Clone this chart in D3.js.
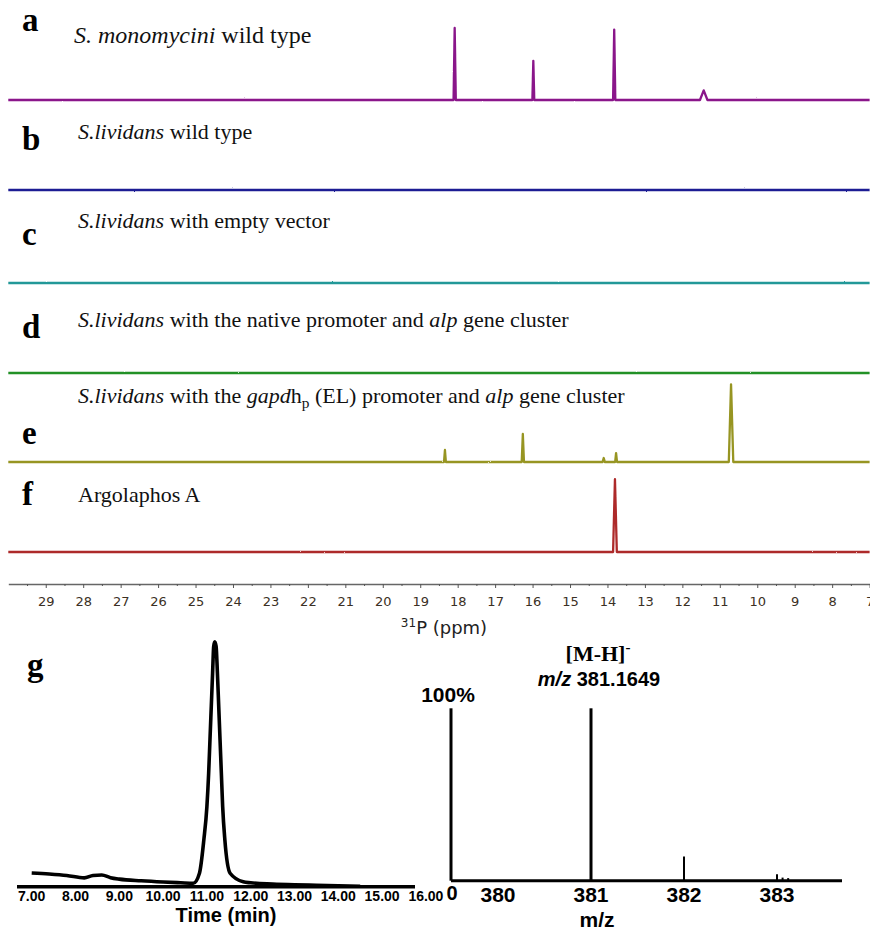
<!DOCTYPE html>
<html>
<head>
<meta charset="utf-8">
<script src="https://cdn.jsdelivr.net/npm/d3@7"></script>
<style>
  body { margin: 0; background: #fff; }
  svg { display: block; }
</style>
</head>
<body>
<svg id="chart"></svg>
<script>
// ---- data ----
// 31P NMR panels a-f: [ppm, height (% of tallest), half width (ppm)]
const panelLetters = ["a", "b", "c", "d", "e", "f"];
const peaksA = [[18.08, 90, 0.03], [15.98, 49, 0.025], [13.82, 88, 0.03], [11.43, 12, 0.1]];
const peaksB = [];
const peaksC = [];
const peaksD = [];
const peaksE = [[18.34, 15, 0.025], [16.26, 35, 0.03], [14.1, 5, 0.03], [13.77, 11, 0.025], [10.7, 97, 0.06]];
const peaksF = [[13.8, 91, 0.05]];
const ppmTicks = d3.range(7, 30);
const ppmMinorTicks = d3.range(7.5, 30, 1);

// LC trace (panel g, left): [time (min), relative intensity %]
const lcTrace = [
  [7.0, 5.6], [7.4, 5.2], [7.8, 4.6], [8.2, 3.6], [8.4, 4.6], [8.6, 4.8], [8.8, 3.7],
  [9.0, 3.1], [9.5, 2.4], [10.0, 1.9], [10.4, 1.6], [10.69, 1.4], [10.83, 5.5],
  [10.93, 19.1], [11.0, 32.7], [11.04, 46.3], [11.07, 60], [11.1, 73.6], [11.13, 87.2],
  [11.155, 98.1], [11.18, 100], [11.21, 98.1], [11.24, 87.2], [11.27, 73.6], [11.3, 60],
  [11.33, 46.3], [11.36, 32.7], [11.41, 19.1], [11.53, 5.5], [11.83, 2.0], [12.0, 1.6],
  [12.5, 1.1], [13.0, 0.8], [13.5, 0.6], [14.0, 0.4], [14.5, 0.2]
];
const timeTicks = [7, 8, 9, 10, 11, 12, 13, 14, 15, 16];

// MS spectrum (panel g, right): [m/z, relative abundance %]
const msPeaks = [[381.0, 100], [382.0, 14], [383.0, 3.7], [383.06, 1.8], [383.12, 1.5]];
const mzTicks = [380, 381, 382, 383];

// ---- layout ----
const W = 870, H = 930;
const svg = d3.select("#chart").attr("width", W).attr("height", H);

const serif = "'Liberation Serif', 'Times New Roman', serif";
const sans = "'Liberation Sans', Arial, sans-serif";
const tahoma = "'DejaVu Sans', Tahoma, sans-serif";

// slight jitter so the NMR baselines look like noisy spectra
const defs = svg.append("defs");
const noise = defs.append("filter")
  .attr("id", "noisy")
  .attr("filterUnits", "userSpaceOnUse")
  .attr("x", 0).attr("y", 0).attr("width", W).attr("height", H);
noise.append("feTurbulence")
  .attr("type", "fractalNoise")
  .attr("baseFrequency", "0.5 0.8")
  .attr("numOctaves", 1)
  .attr("seed", 3)
  .attr("result", "turb");
noise.append("feDisplacementMap")
  .attr("in", "SourceGraphic").attr("in2", "turb")
  .attr("scale", 1.6)
  .attr("xChannelSelector", "R").attr("yChannelSelector", "G");

// NMR scales
const xPpm = d3.scaleLinear().domain([30, 7]).range([8.3, 869.6]);
const yInt = d3.scaleLinear().domain([0, 100]).range([0, 80]);
const rowBase = [100, 190, 283, 373, 462, 552];
const rowColor = ["#8a168a", "#1c1c94", "#239898", "#219128", "#979524", "#ad2a2a"];
const allPeaks = [peaksA, peaksB, peaksC, peaksD, peaksE, peaksF];

// build the line for each trace from its peak list
function tracePoints(peaks) {
  const pts = [[30, 0]];
  peaks.slice().sort((p, q) => q[0] - p[0]).forEach(([ppm, h, w]) => {
    pts.push([ppm + w, 0], [ppm, h], [ppm - w, 0]);
  });
  pts.push([7, 0]);
  return pts;
}

allPeaks.forEach((peaks, i) => {
  const line = d3.line()
    .x(d => xPpm(d[0]))
    .y(d => rowBase[i] - yInt(d[1]));
  svg.append("path")
    .attr("d", line(tracePoints(peaks)))
    .attr("fill", "none")
    .attr("stroke", rowColor[i])
    .attr("stroke-width", 2.3)
    .attr("stroke-linejoin", "round")
    .attr("filter", "url(#noisy)");
});

// panel letters
const letterPos = [[22, 31], [22, 150], [22, 245], [22, 338], [22, 444], [22, 505]];
panelLetters.forEach((l, i) => {
  svg.append("text")
    .attr("x", letterPos[i][0]).attr("y", letterPos[i][1])
    .attr("font-family", serif).attr("font-weight", "bold")
    .attr("font-size", 33).text(l);
});

// panel descriptions: arrays of [text, style]
const descriptions = [
  [[["S. monomycini", "i"], [" wild type", ""]], 74, 43, 24],
  [[["S.lividans", "i"], [" wild type", ""]], 78, 139, 22],
  [[["S.lividans", "i"], [" with empty vector", ""]], 78, 228, 22],
  [[["S.lividans", "i"], [" with the native promoter and ", ""], ["alp", "i"], [" gene cluster", ""]], 78, 327, 22],
  [[["S.lividans", "i"], [" with the ", ""], ["gapd", "i"], ["h", ""], ["p", "sub"], [" (EL) promoter and ", ""], ["alp", "i"], [" gene cluster", ""]], 78, 403, 22],
  [[["Argolaphos A", ""]], 78, 502, 22]
];
descriptions.forEach(([parts, x, y, fs]) => {
  const t = svg.append("text").attr("x", x).attr("y", y)
    .attr("font-family", serif).attr("font-size", fs).attr("fill", "#111");
  parts.forEach(([s, st]) => {
    const ts = t.append("tspan").text(s);
    if (st === "i") ts.attr("font-style", "italic");
    if (st === "sub") ts.attr("font-size", fs * 0.7).attr("dy", 5);
    if (s.startsWith(" (EL)")) ts.attr("dy", -5);
  });
});

// ppm axis
const axisY = 584;
const ppmAxis = svg.append("g")
  .attr("transform", `translate(0,${axisY})`)
  .call(d3.axisBottom(xPpm).tickValues(ppmTicks).tickSize(4).tickSizeOuter(0).tickPadding(9));
ppmAxis.select(".domain").attr("stroke", "#666").attr("stroke-width", 1.5);
ppmAxis.selectAll(".tick line").attr("stroke", "#555");
ppmAxis.selectAll(".tick text")
  .attr("font-family", tahoma).attr("font-size", 13).attr("fill", "#3b3024");

svg.append("g")
  .attr("transform", `translate(0,${axisY})`)
  .call(d3.axisBottom(xPpm).tickValues(ppmMinorTicks).tickSize(2).tickFormat(""))
  .call(g => g.select(".domain").remove())
  .selectAll(".tick line").attr("stroke", "#555");

svg.append("text")
  .attr("x", 444).attr("y", 634).attr("text-anchor", "middle")
  .attr("font-family", tahoma).attr("font-size", 18).attr("fill", "#222")
  .call(t => {
    t.append("tspan").text("31").attr("font-size", 12).attr("dy", -7);
    t.append("tspan").text("P (ppm)").attr("dy", 7);
  });

// ---- panel g ----
svg.append("text")
  .attr("x", 27).attr("y", 676)
  .attr("font-family", serif).attr("font-weight", "bold")
  .attr("font-size", 33).text("g");

// LC chromatogram
const xTime = d3.scaleLinear().domain([7, 16]).range([31.7, 425.9]);
const yLc = d3.scaleLinear().domain([0, 100]).range([886.7, 641.7]);

svg.append("line")
  .attr("x1", 17).attr("x2", 415)
  .attr("y1", yLc(0)).attr("y2", yLc(0))
  .attr("stroke", "#000").attr("stroke-width", 3.5);

svg.append("path")
  .datum(lcTrace)
  .attr("d", d3.line().x(d => xTime(d[0])).y(d => yLc(d[1])).curve(d3.curveMonotoneX))
  .attr("fill", "none").attr("stroke", "#000")
  .attr("stroke-width", 3.6).attr("stroke-linejoin", "round");

svg.selectAll(".timeTick")
  .data(timeTicks).join("text")
  .attr("class", "timeTick")
  .attr("x", d => xTime(d)).attr("y", 901)
  .attr("text-anchor", "middle")
  .attr("font-family", sans).attr("font-weight", "bold").attr("font-size", 14)
  .text(d => d3.format(".2f")(d));

svg.append("text")
  .attr("x", 226).attr("y", 922).attr("text-anchor", "middle")
  .attr("font-family", sans).attr("font-weight", "bold").attr("font-size", 20)
  .text("Time (min)");

// mass spectrum
const xMz = d3.scaleLinear().domain([380, 383]).range([498, 777]);
const yMs = d3.scaleLinear().domain([0, 100]).range([880.7, 708.3]);

svg.append("line")
  .attr("x1", 451).attr("x2", 842)
  .attr("y1", yMs(0)).attr("y2", yMs(0))
  .attr("stroke", "#000").attr("stroke-width", 3);
svg.append("line")
  .attr("x1", 451).attr("x2", 451)
  .attr("y1", yMs(0)).attr("y2", yMs(100))
  .attr("stroke", "#000").attr("stroke-width", 3);

svg.selectAll(".msPeak")
  .data(msPeaks).join("line")
  .attr("class", "msPeak")
  .attr("x1", d => xMz(d[0])).attr("x2", d => xMz(d[0]))
  .attr("y1", yMs(0)).attr("y2", d => yMs(d[1]))
  .attr("stroke", "#000")
  .attr("stroke-width", d => d[1] > 50 ? 3 : 2);

svg.selectAll(".mzTick")
  .data(mzTicks).join("text")
  .attr("class", "mzTick")
  .attr("x", d => xMz(d)).attr("y", 902)
  .attr("text-anchor", "middle")
  .attr("font-family", sans).attr("font-weight", "bold").attr("font-size", 21)
  .text(d => d);

svg.append("text")
  .attr("x", 452).attr("y", 900).attr("text-anchor", "middle")
  .attr("font-family", sans).attr("font-weight", "bold").attr("font-size", 20)
  .text("0");
svg.append("text")
  .attr("x", 448).attr("y", 702).attr("text-anchor", "middle")
  .attr("font-family", sans).attr("font-weight", "bold").attr("font-size", 21)
  .text("100%");
svg.append("text")
  .attr("x", 597).attr("y", 927).attr("text-anchor", "middle")
  .attr("font-family", sans).attr("font-weight", "bold").attr("font-size", 21)
  .text("m/z");

// annotation of the molecular ion
svg.append("text")
  .attr("x", 598).attr("y", 661).attr("text-anchor", "middle")
  .attr("font-family", serif).attr("font-weight", "bold").attr("font-size", 22)
  .call(t => {
    t.append("tspan").text("[M-H]");
    t.append("tspan").text("-").attr("font-size", 15).attr("dy", -9);
  });
svg.append("text")
  .attr("x", 599).attr("y", 686).attr("text-anchor", "middle")
  .attr("font-family", sans).attr("font-weight", "bold").attr("font-size", 20)
  .call(t => {
    t.append("tspan").text("m/z").attr("font-style", "italic");
    t.append("tspan").text(" 381.1649");
  });
</script>
</body>
</html>
